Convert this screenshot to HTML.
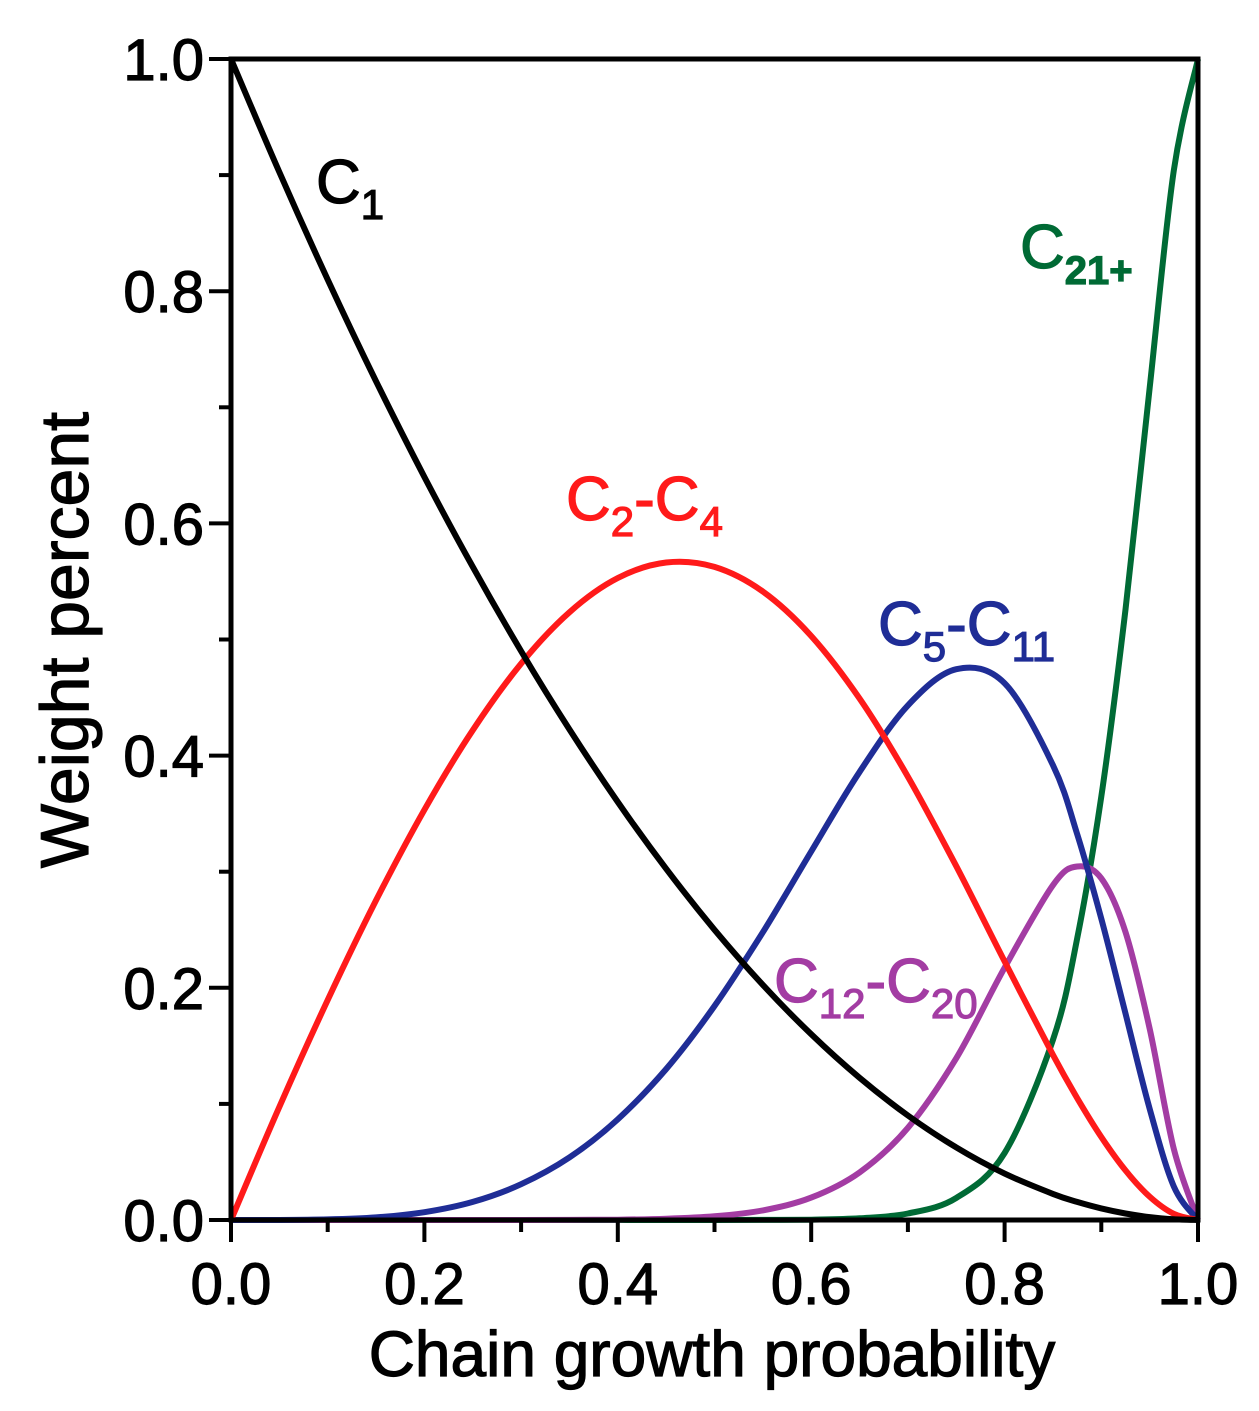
<!DOCTYPE html>
<html><head><meta charset="utf-8"><style>
html,body{margin:0;padding:0;background:#fff}
svg{display:block;font-family:"Liberation Sans",Arial,sans-serif}
text{stroke-width:1.2px}
</style></head><body>
<svg id="chart" width="1259" height="1411" viewBox="0 0 1259 1411" xmlns="http://www.w3.org/2000/svg">
<g id="plot"></g>
<g id="axes"></g>
<text transform="translate(88,640) rotate(-90)" text-anchor="middle" font-size="68" stroke="#000">Weight percent</text>
<text x="712" y="1376" text-anchor="middle" font-size="64" stroke="#000">Chain growth probability</text>
<text x="316" y="203" font-size="62" fill="#000" stroke="#000">C<tspan font-size="42" dy="16">1</tspan></text>
<text x="1020" y="268" font-size="62" fill="#006a35" stroke="#006a35">C<tspan font-size="40" dy="16" font-weight="bold">21+</tspan></text>
<text x="566" y="520" font-size="62" fill="#ff1a1a" stroke="#ff1a1a">C<tspan font-size="42" dy="16">2</tspan><tspan dy="-16">-C</tspan><tspan font-size="42" dy="16">4</tspan></text>
<text x="878" y="645" font-size="62" fill="#1f2d96" stroke="#1f2d96">C<tspan font-size="42" dy="16">5</tspan><tspan dy="-16">-C</tspan><tspan font-size="42" dy="16">11</tspan></text>
<text x="774" y="1002" font-size="62" fill="#a33ca3" stroke="#a33ca3">C<tspan font-size="42" dy="16">12</tspan><tspan dy="-16">-C</tspan><tspan font-size="42" dy="16">20</tspan></text>
</svg>
<script>
const alphas=[0,0.05,0.1,0.15,0.2,0.25,0.3,0.35,0.4,0.45,0.5,0.55,0.6,0.65,0.7,0.75,0.8,0.85,0.875,0.9,0.925,0.95,0.975,1];
const c1=[1,0.9025,0.81,0.7225,0.64,0.5625,0.49,0.4225,0.36,0.3025,0.25,0.2025,0.16,0.1225,0.09,0.0625,0.04,0.0225,0.0156,0.01,0.0056,0.0025,0.0006,0];
const c2c4=[0,0.0975,0.1895,0.2753,0.3533,0.4219,0.4792,0.5235,0.553,0.5663,0.5625,0.5413,0.503,0.4491,0.3818,0.3047,0.2227,0.1423,0.1051,0.0715,0.0427,0.0201,0.0053,0];
const c5c11=[0,0,0.0005,0.0022,0.0067,0.0156,0.0308,0.0539,0.0867,0.1301,0.1843,0.2479,0.3174,0.386,0.4432,0.4744,0.4624,0.3918,0.3326,0.2595,0.1779,0.0957,0.0289,0];
const c12c20=[0,0,0,0,0,0,0,0.0001,0.0003,0.0011,0.0032,0.0083,0.0193,0.041,0.0794,0.1394,0.2173,0.2884,0.3045,0.2943,0.248,0.1647,0.0612,0];
const c21=[0,0,0,0,0,0,0,0,0,0,0,0.0001,0.0003,0.0015,0.0056,0.019,0.0577,0.155,0.2422,0.3647,0.5258,0.717,0.904,1];
const xTicks=["0.0","0.2","0.4","0.6","0.8","1.0"];
const yTicks=["0.0","0.2","0.4","0.6","0.8","1.0"];
const X0=231,X1=1198,Y0=1220,Y1=59;
const sx=v=>X0+v*(X1-X0), sy=v=>Y0-v*(Y0-Y1);
const NS="http://www.w3.org/2000/svg";
const plot=document.getElementById('plot'), axes=document.getElementById('axes');
function mk(tag,attrs,parent){const e=document.createElementNS(NS,tag);for(const k in attrs)e.setAttribute(k,attrs[k]);parent.appendChild(e);return e;}
function pathFor(ys){
  const p=alphas.map((a,i)=>[sx(a),sy(ys[i])]);
  let d="M"+p[0][0].toFixed(1)+","+p[0][1].toFixed(1);
  for(let i=0;i<p.length-1;i++){
    const p0=p[Math.max(0,i-1)],p1=p[i],p2=p[i+1],p3=p[Math.min(p.length-1,i+2)];
    const c1x=p1[0]+(p2[0]-p0[0])/6,c1y=p1[1]+(p2[1]-p0[1])/6;
    const c2x=p2[0]-(p3[0]-p1[0])/6,c2y=p2[1]-(p3[1]-p1[1])/6;
    d+=` C${c1x.toFixed(1)},${Math.min(Y0,c1y).toFixed(1)} ${c2x.toFixed(1)},${Math.min(Y0,c2y).toFixed(1)} ${p2[0].toFixed(1)},${p2[1].toFixed(1)}`;
  }
  return d;
}
const series=[[c21,"#006a35","series-c21-plus"],[c12c20,"#a33ca3","series-c12-c20"],[c5c11,"#1f2d96","series-c5-c11"],[c2c4,"#ff1a1a","series-c2-c4"],[c1,"#000000","series-c1"]];
series.forEach(s=>{
  const e=mk('path',{d:pathFor(s[0]),fill:'none',stroke:s[1],'stroke-width':6,'stroke-linejoin':'round'},plot);
  
  
});
const frame=mk('rect',{x:X0,y:Y1,width:X1-X0,height:Y0-Y1,fill:'none',stroke:'#000','stroke-width':5},axes);


for(let i=0;i<=10;i++){
  const v=i/10, major=i%2===0;
  const tx=mk('line',{x1:sx(v),x2:sx(v),y1:Y0,y2:Y0+(major?22:12),stroke:'#000','stroke-width':4},axes);
  
  
  const ty=mk('line',{x1:X0,x2:X0-(major?22:12),y1:sy(v),y2:sy(v),stroke:'#000','stroke-width':4},axes);
  
  
}
xTicks.forEach((t,i)=>{
  const e=mk('text',{x:sx(i/5),y:1304,'text-anchor':'middle','font-size':58,stroke:'#000'},axes);
  e.textContent=t;
  
  
});
yTicks.forEach((t,i)=>{
  const e=mk('text',{x:204,y:sy(i/5)+21,'text-anchor':'end','font-size':58,stroke:'#000'},axes);
  e.textContent=t;
  
  
});
</script>
</body></html>
